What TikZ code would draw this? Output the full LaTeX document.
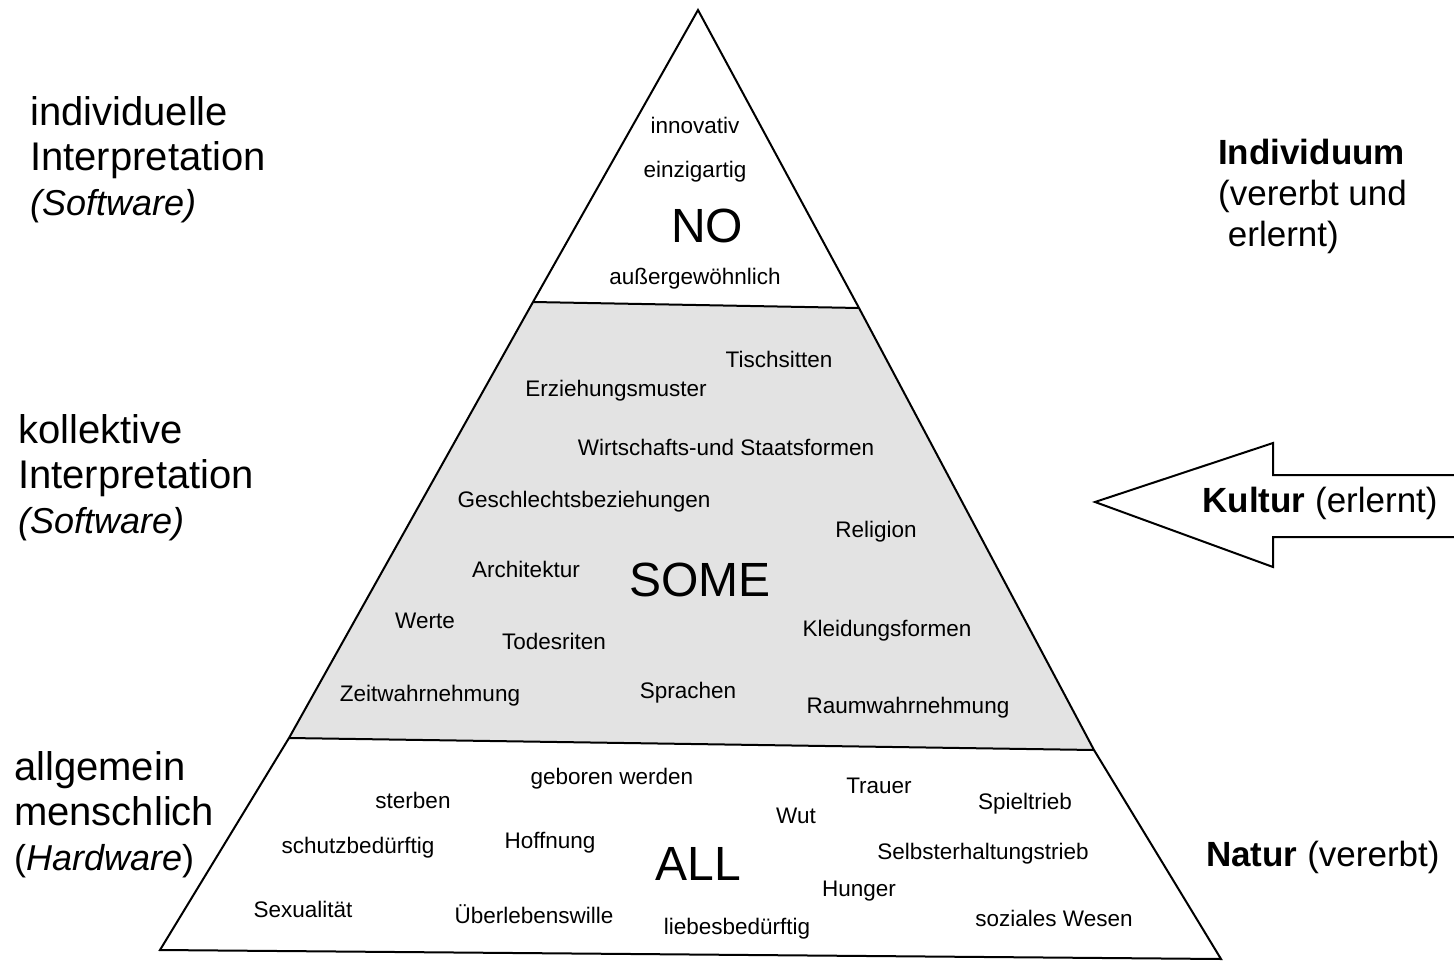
\documentclass[tikz,border=0pt]{standalone}
\usepackage{fontspec}
\setmainfont{Liberation Sans}
\tikzset{
word/.style={font=\fontsize{22.5}{26}\selectfont, inner sep=0pt},
big/.style={font=\fontsize{48}{52}\selectfont, inner sep=0pt},
side/.style={font=\fontsize{40}{45}\selectfont, align=left, anchor=west, inner sep=0pt},
rside/.style={font=\fontsize{35}{41}\selectfont, align=left, anchor=west, inner sep=0pt},
layer/.style={line width=2pt, line join=miter},
}
\newcommand{\paren}[1]{{\fontsize{36}{45}\selectfont #1}}

\begin{document}
\begin{tikzpicture}[x=1pt,y=-1pt]
\useasboundingbox (0,0) rectangle (1454,963);
% the pyramid
\coordinate (top) at (698,10);
\coordinate (l1) at (533,302);
\coordinate (r1) at (859,308);
\coordinate (l2) at (289,738);
\coordinate (r2) at (1094,750);
\coordinate (bl) at (160,950);
\coordinate (br) at (1221,959);
\fill[black!11] (l1) -- (r1) -- (r2) -- (l2) -- cycle;
\draw[layer] (top) -- (l1) -- (l2) -- (bl) -- (br) -- (r2) -- (r1) -- cycle;
\draw[layer] (l1) -- (r1);
\draw[layer] (l2) -- (r2);
% the arrow
\draw[layer] (1454,475) -- (1273,475) -- (1273,443) -- (1095,502)
  -- (1273,567) -- (1273,537) -- (1454,537);
% the words
\foreach \t/\x/\y [count=\i] in {innovativ/695/125, einzigartig/695/172,
  außergewöhnlich/695/279,
  Tischsitten/779/359, Erziehungsmuster/616/391,
  Wirtschafts-und Staatsformen/726/447, Geschlechtsbeziehungen/584/502,
  Religion/876/532, Architektur/526/569, Werte/425/621, Todesriten/554/641,
  Kleidungsformen/887/631, Zeitwahrnehmung/430/696, Sprachen/688/693,
  Raumwahrnehmung/908/708,
  sterben/413/800, geboren werden/612/779, Trauer/879/786, Spieltrieb/1025/804,
  Wut/796/816, schutzbedürftig/358/848, Hoffnung/550/843,
  Selbsterhaltungstrieb/983/854, Hunger/859/891, Sexualität/303/909,
  Überlebenswille/534/914, liebesbedürftig/737/929, soziales Wesen/1054/918}
  \node[word] (w\i) at (\x,\y) {\t};
\node[big] (no) at (707,226) {NO};
\node[big] (some) at (700,580) {SOME};
\node[big] (all) at (698,864) {ALL};
% left side
\node[side] (indiv) at (30,160) {individuelle\\Interpretation\\\paren{\textit{(Software)}}};
\node[side] (koll) at (18,478) {kollektive\\Interpretation\\\paren{\textit{(Software)}}};
\node[side] (allg) at (14,815) {allgemein\\menschlich\\\paren{(\textit{Hardware})}};
% right side
\node[rside] (person) at (1218,196) {\textbf{Individuum}\\(vererbt und\\\ erlernt)};
\node[rside, anchor=center] (kultur) at (1320,503) {\textbf{Kultur} (erlernt)};
\node[rside] (natur) at (1206,857) {\textbf{Natur} (vererbt)};
\end{tikzpicture}
\end{document}
